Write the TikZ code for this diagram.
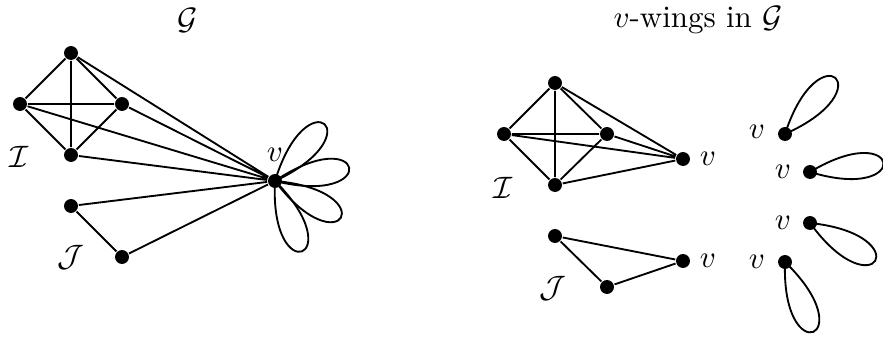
\documentclass[tikz,border=0pt]{standalone}
\begin{document}
\begin{tikzpicture}[x=0.323pt,y=0.323pt,line width=0.6pt,
  dot/.style={circle,fill=black,inner sep=0pt,minimum size=4.5pt},
  lab/.style={inner sep=0pt},
  petal/.style={line width=0.6pt}]
\useasboundingbox (0,0) rectangle (883,337);
% ---------- left graph
\node[lab] (tG) at (188,317) {$\mathcal{G}$};
\node[dot] (a1) at (71,284) {};
\node[dot] (a2) at (20,233) {};
\node[dot] (a3) at (122,233) {};
\node[dot] (a4) at (71,182) {};
\node[dot] (b1) at (71,131) {};
\node[dot] (b2) at (122,80) {};
\node[dot] (v) at (275,156) {};
\node[lab] (vl) at (275,182) {$v$};
\node[lab] (Il) at (19,180) {$\mathcal{I}$};
\node[lab] (Jl) at (71,80) {$\mathcal{J}$};
\draw (a1)--(a2) (a1)--(a3) (a1)--(a4) (a2)--(a3) (a2)--(a4) (a3)--(a4);
\draw (a1)--(v) (a2)--(v) (a3)--(v) (a4)--(v) (b1)--(v) (b2)--(v) (b1)--(b2);
\foreach \t in {49,10,-29,-69}{
  \draw[petal] (v.center) .. controls +(\t-24:110) and +(\t+24:110) .. (v.center);
}
% ---------- right graph
\node[lab] (tW) at (698,317) {$v$-wings in $\mathcal{G}$};
\node[dot] (c1) at (555,254) {};
\node[dot] (c2) at (504,203) {};
\node[dot] (c3) at (607,203) {};
\node[dot] (c4) at (555,152) {};
\node[dot] (cv) at (683,178) {};
\node[lab] (cvl) at (708,178) {$v$};
\node[lab] (cIl) at (503,149) {$\mathcal{I}$};
\draw (c1)--(c2) (c1)--(c3) (c1)--(c4) (c2)--(c3) (c2)--(c4) (c3)--(c4);
\draw (c1)--(cv) (c2)--(cv) (c3)--(cv) (c4)--(cv);
\node[dot] (d1) at (555,101) {};
\node[dot] (d2) at (607,50) {};
\node[dot] (dv) at (683,76) {};
\node[lab] (dvl) at (708,76) {$v$};
\node[lab] (dJl) at (553,49) {$\mathcal{J}$};
\draw (d1)--(d2) (d1)--(dv) (d2)--(dv);
% isolated wings
\node[dot] (w1) at (785,203) {};
\node[lab] (w1l) at (757,205) {$v$};
\node[dot] (w2) at (810,165) {};
\node[lab] (w2l) at (783,165) {$v$};
\node[dot] (w3) at (810,114) {};
\node[lab] (w3l) at (783,114) {$v$};
\node[dot] (w4) at (785,75) {};
\node[lab] (w4l) at (757,75) {$v$};
\draw[petal] (w1.center) .. controls +(24:110) and +(72:110) .. (w1.center);
\draw[petal] (w2.center) .. controls +(-17:108) and +(31:108) .. (w2.center);
\draw[petal] (w3.center) .. controls +(-54:110) and +(-6:110) .. (w3.center);
\draw[petal] (w4.center) .. controls +(-92:110) and +(-44:110) .. (w4.center);
\end{tikzpicture}
\end{document}
